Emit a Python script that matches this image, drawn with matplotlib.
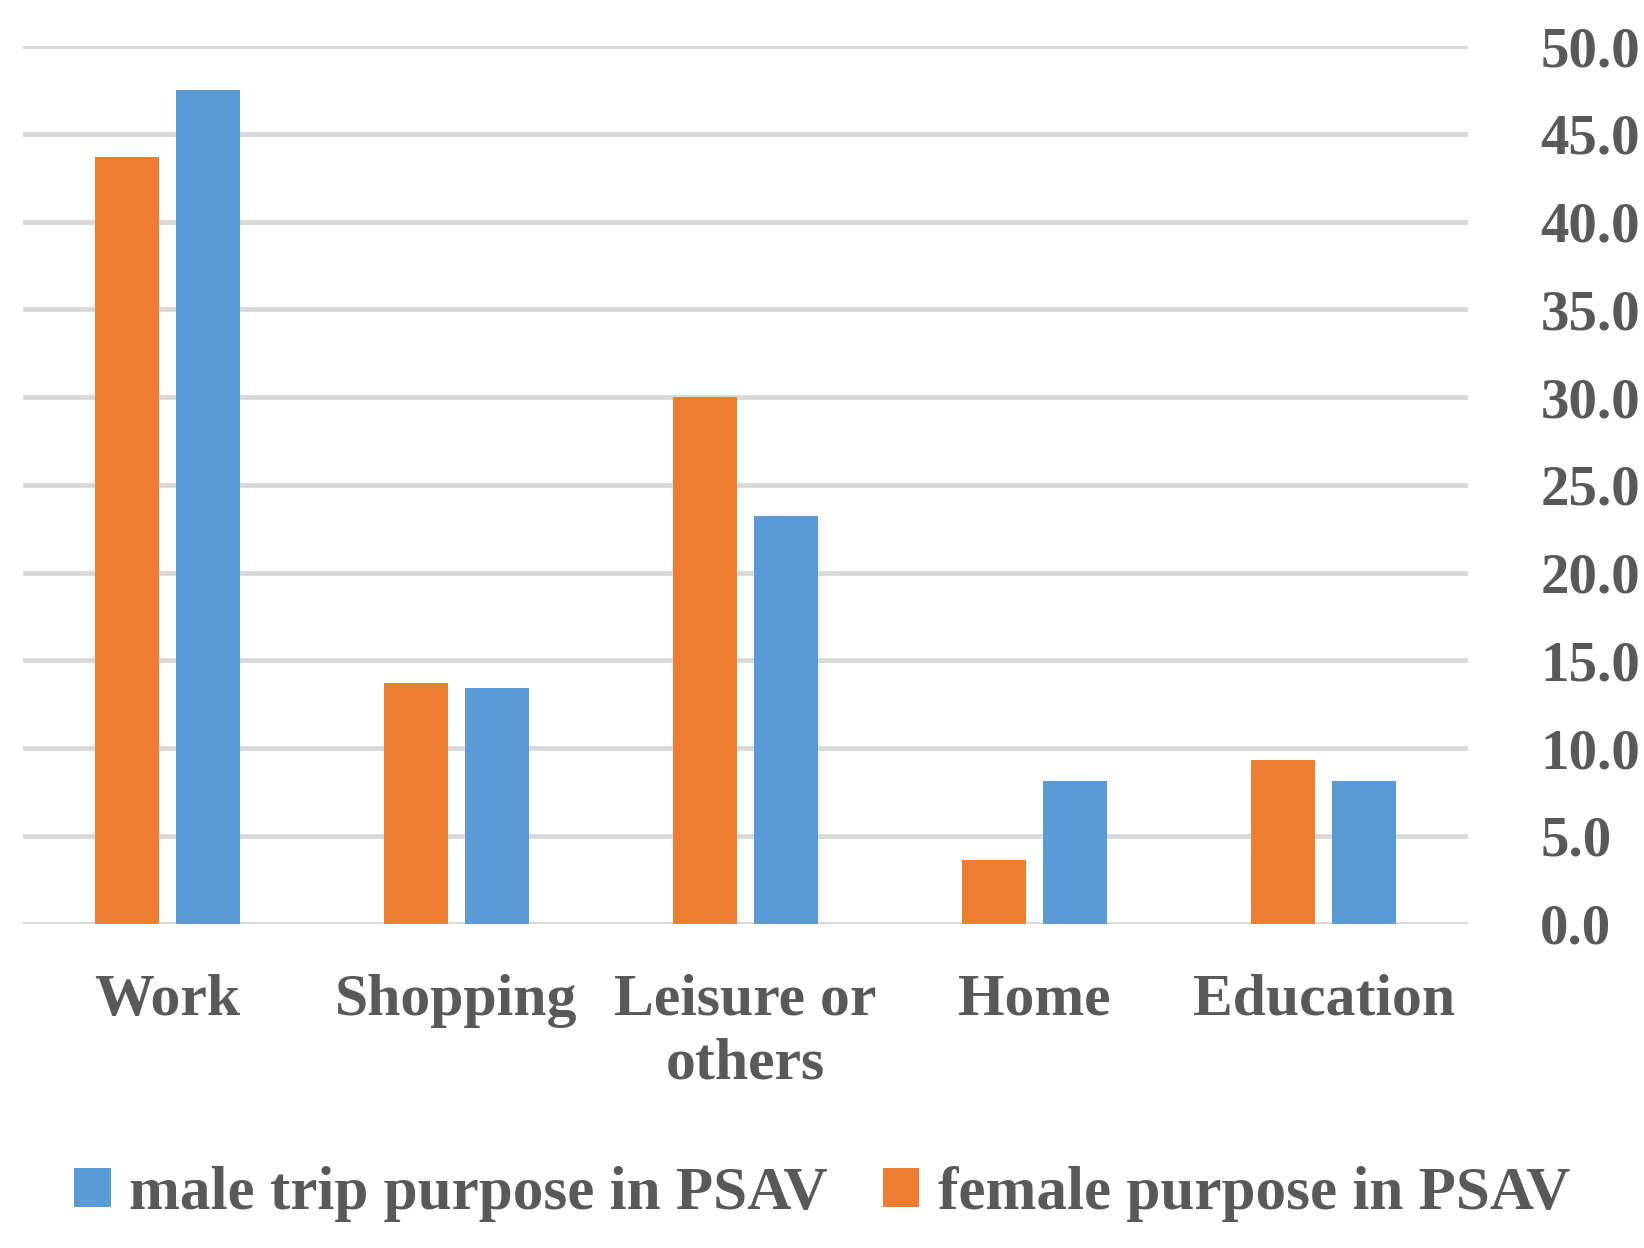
import matplotlib.pyplot as plt
import numpy as np

categories = ['Work', 'Shopping', 'Leisure or\nothers', 'Home', 'Education']
female = [43.7, 13.7, 30.0, 3.6, 9.3]
male = [47.5, 13.4, 23.2, 8.1, 8.1]
ticks = np.arange(0, 50.1, 5)

gray = '#595959'
font = {'family': 'Liberation Serif', 'weight': 'bold', 'color': gray}

fig = plt.figure(figsize=(16.44, 12.48), dpi=100)
ax = fig.add_axes([0.014, 0.26, 0.879, 0.703])
x = np.arange(len(categories))
ax.bar(x - 0.14, female, 0.22, color='#ED7D31', label='female purpose in PSAV', zorder=3)
ax.bar(x + 0.14, male, 0.22, color='#5B9BD5', label='male trip purpose in PSAV', zorder=3)
ax.set_xlim(-0.5, 4.5)
ax.set_ylim(0, 50)
ax.set_yticks(ticks)
ax.yaxis.tick_right()
ax.set_yticklabels(['%.1f' % t for t in ticks], fontdict=font, fontsize=41)
ax.set_xticks(x)
ax.set_xticklabels(categories, fontdict=font, fontsize=43, linespacing=1.25, va='top')
ax.tick_params(length=0)
ax.tick_params(axis='y', pad=52)
ax.tick_params(axis='x', pad=36)
ax.grid(axis='y', color='#D9D9D9', linewidth=3.5, zorder=0)
for s in ax.spines.values():
    s.set_visible(False)

h, l = ax.get_legend_handles_labels()
leg = fig.legend(h[::-1], l[::-1], loc='center', bbox_to_anchor=(0.5, 0.043), ncol=2,
                 frameon=False, handlelength=0.6, handleheight=0.6, handletextpad=0.3,
                 columnspacing=0.9, prop={'family': 'Liberation Serif', 'weight': 'bold', 'size': 44})
for t in leg.get_texts():
    t.set_color(gray)
fig.savefig('out.png')
